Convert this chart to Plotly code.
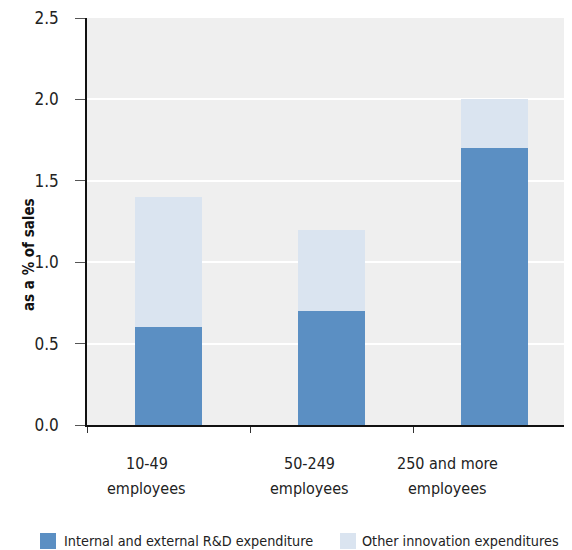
import plotly.graph_objects as go

categories = ["10-49 employees", "50-249 employees", "250 and more employees"]
label_line1 = ["10-49", "50-249", "250 and more"]
label_line2 = ["employees", "employees", "employees"]
label_shift = [-22, -22, -47]
series_names = ["Internal and external R&D expenditure", "Other innovation expenditures"]
rd_values = [0.6, 0.7, 1.7]
other_values = [0.8, 0.5, 0.3]
y_ticks = [0.0, 0.5, 1.0, 1.5, 2.0, 2.5]

FONT = "DejaVu Sans Condensed, Liberation Sans Narrow, Arial Narrow, sans-serif"
DARK = "#5B8FC3"
LIGHT = "#DAE4F0"
TXT = "#222"

fig = go.Figure()
fig.add_trace(go.Bar(x=categories, y=rd_values, name=series_names[0],
                     marker=dict(color=DARK, line=dict(width=0)), width=0.41))
fig.add_trace(go.Bar(x=categories, y=other_values, name=series_names[1],
                     marker=dict(color=LIGHT, line=dict(width=0)), width=0.41))

# category labels (two lines each, offset left as in the reference)
for cat, l1, l2, sh in zip(categories, label_line1, label_line2, label_shift):
    fig.add_annotation(x=cat, y=-0.0934, yref="paper", yanchor="middle", xshift=sh,
                       text=l1, showarrow=False, font=dict(family=FONT, size=16, color=TXT))
    fig.add_annotation(x=cat, y=-0.1548, yref="paper", yanchor="middle", xshift=sh,
                       text=l2, showarrow=False, font=dict(family=FONT, size=16, color=TXT))

# y-axis title
fig.add_annotation(x=-0.142, xref="paper", y=0.418, yref="paper", text="<b>as a % of sales</b>",
                   textangle=-90, showarrow=False, font=dict(family=FONT, size=15, color="#111"))

# legend drawn manually
legend_sq = [(-0.0969, -0.0639), (0.5216, 0.5546)]
legend_tx = [-0.0515, 0.563]
for (x0, x1), tx, nm, col in zip(legend_sq, legend_tx, series_names, [DARK, LIGHT]):
    fig.add_shape(type="rect", xref="paper", yref="paper", x0=x0, x1=x1, y0=-0.3047, y1=-0.2654,
                  fillcolor=col, line=dict(width=0))
    fig.add_annotation(x=tx, xref="paper", xanchor="left", y=-0.285, yref="paper", yanchor="middle",
                       text=nm, showarrow=False, font=dict(family=FONT, size=14.3, color=TXT))

# page body has an 8px margin, so the figure is sized to the visible area
fig.update_layout(
    barmode="stack",
    width=564, height=542,
    margin=dict(l=79, r=0, t=10, b=125, autoexpand=False),
    paper_bgcolor="white",
    plot_bgcolor="#EFEFEF",
    font=dict(family=FONT, size=16, color=TXT),
    showlegend=False,
)
fig.update_xaxes(type="category", range=[-0.5, 2.475], showticklabels=False,
                 tickson="boundaries", ticks="outside", ticklen=6, tickcolor="#333",
                 showline=True, linecolor="#111", linewidth=1.5, showgrid=False, zeroline=False,
                 automargin=False)
fig.update_yaxes(range=[0, 2.5], tickvals=y_ticks, tickformat=".1f", ticks="outside", ticklen=10,
                 tickcolor="#555", showline=True, linecolor="#111", linewidth=1.5,
                 gridcolor="white", gridwidth=2, zeroline=False, ticklabelstandoff=13,
                 ticklabeloverflow="allow",
                 tickfont=dict(family=FONT, size=17, color=TXT), automargin=False)

fig.write_html("out.html")
